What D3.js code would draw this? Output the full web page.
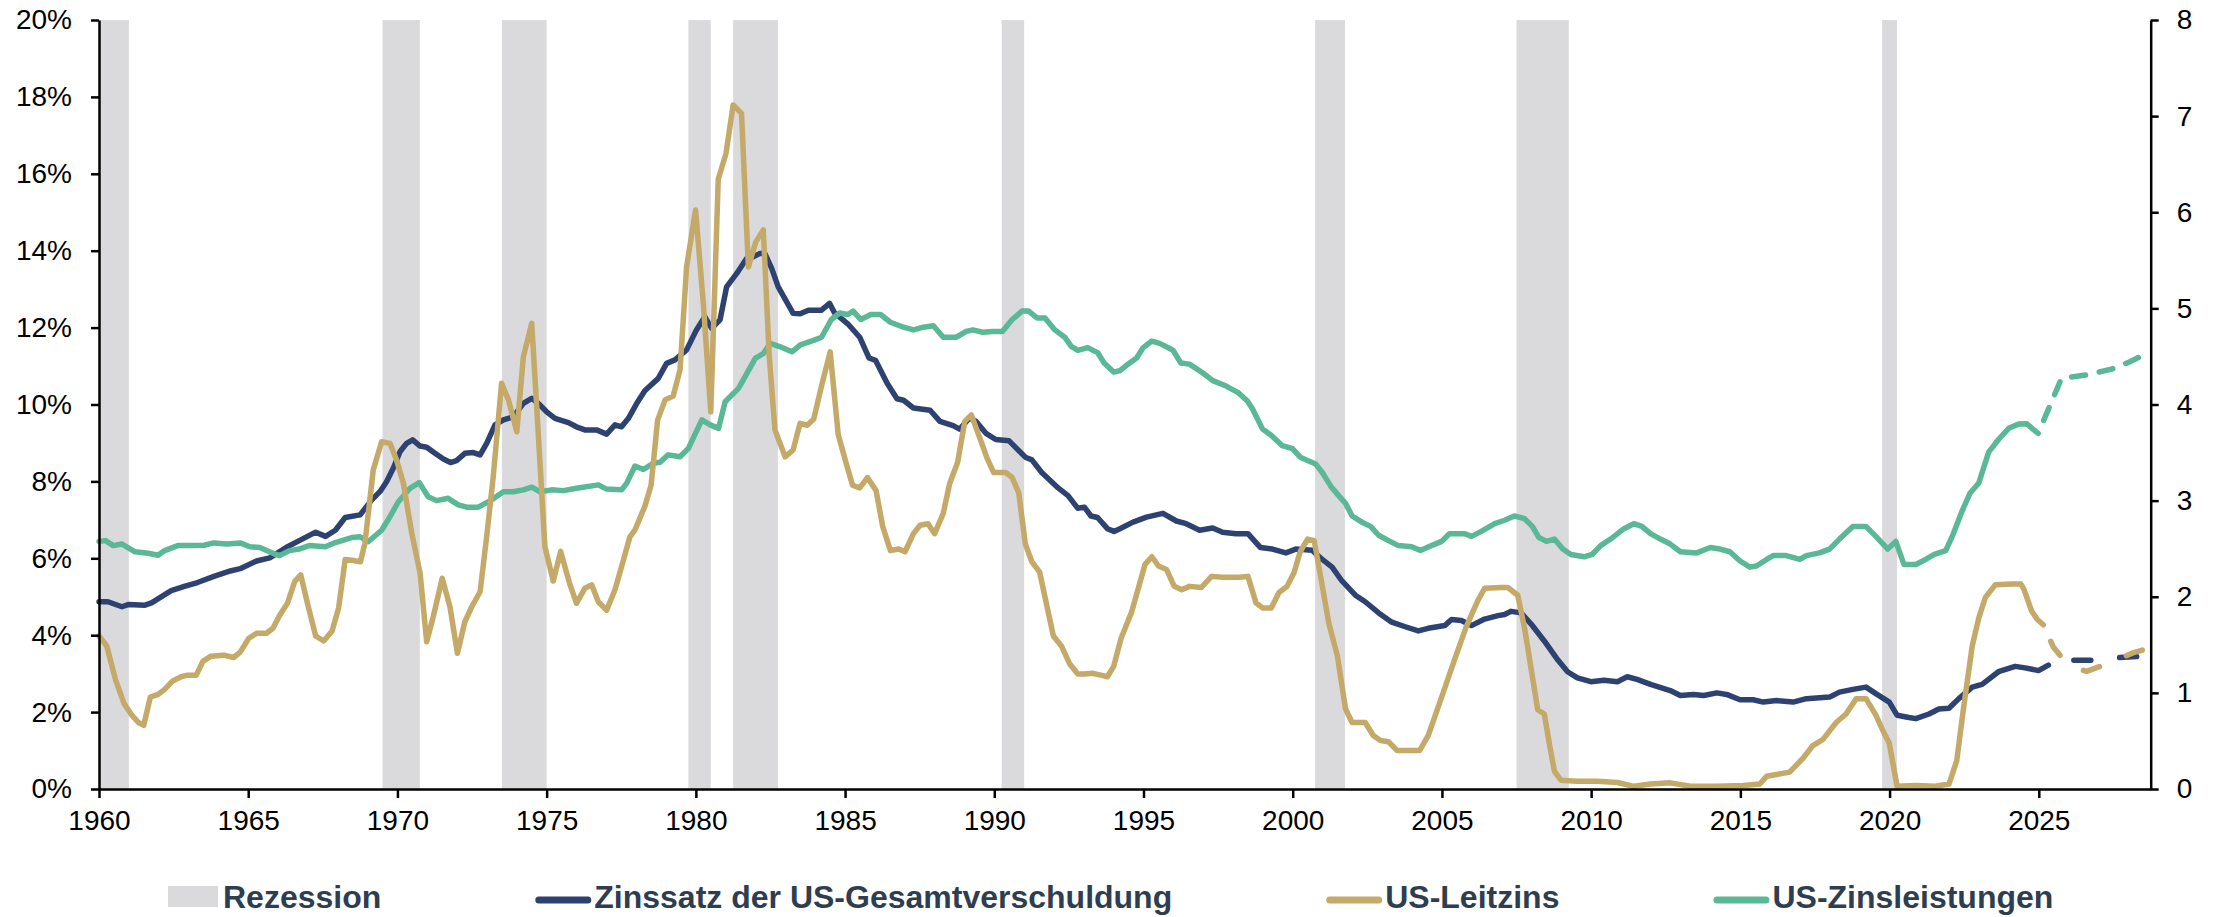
<!DOCTYPE html>
<html>
<head>
<meta charset="utf-8">
<script src="https://cdn.jsdelivr.net/npm/d3@7"></script>
<style>
  body { margin: 0; background: #fff; }
  svg { display: block; font-family: "Liberation Sans", Arial, sans-serif; }
</style>
</head>
<body>
<svg id="chart" width="2214" height="917"></svg>
<script>
// recession periods (start, end) in decimal years
var recessions = [[1960.0, 1961.0], [1969.5, 1970.75], [1973.5, 1975.0], [1979.75, 1980.5],
  [1981.25, 1982.75], [1990.25, 1991.0], [2000.75, 2001.75], [2007.5, 2009.25], [2019.75, 2020.25]];

// Zinssatz der US-Gesamtverschuldung, % (year, value)
var debtRate = [[1960.0,4.87],[1960.3,4.87],[1960.77,4.74],[1961.0,4.8],[1961.54,4.78],[1961.76,4.84],[1962.42,5.16],
  [1962.86,5.27],[1963.3,5.37],[1963.85,5.53],[1964.4,5.67],[1964.73,5.73],[1965.28,5.93],[1965.72,6.01],[1966.27,6.28],
  [1966.71,6.46],[1967.26,6.68],[1967.59,6.57],[1967.92,6.73],[1968.25,7.06],[1968.75,7.13],[1969.14,7.52],[1969.42,7.74],
  [1969.64,8.0],[1969.86,8.34],[1970.09,8.78],[1970.31,8.99],[1970.51,9.08],[1970.76,8.92],[1970.98,8.89],[1971.26,8.73],
  [1971.54,8.58],[1971.78,8.49],[1971.98,8.54],[1972.26,8.73],[1972.54,8.75],[1972.77,8.69],[1972.99,8.99],[1973.27,9.47],
  [1973.55,9.6],[1973.88,9.68],[1974.22,10.03],[1974.5,10.16],[1974.72,10.03],[1975.0,9.81],[1975.28,9.64],[1975.73,9.53],
  [1976.0,9.42],[1976.28,9.34],[1976.67,9.34],[1977.01,9.23],[1977.29,9.47],[1977.51,9.42],[1977.74,9.64],[1978.02,10.03],
  [1978.29,10.36],[1978.74,10.68],[1979.02,11.07],[1979.3,11.16],[1979.69,11.42],[1980.02,11.94],[1980.3,12.28],
  [1980.53,11.98],[1980.81,12.2],[1981.03,13.06],[1981.37,13.41],[1981.7,13.8],[1981.92,13.84],[1982.15,13.93],
  [1982.31,13.93],[1982.54,13.54],[1982.76,13.06],[1983.26,12.37],[1983.5,12.36],[1983.77,12.45],[1984.2,12.45],
  [1984.48,12.63],[1984.65,12.38],[1985.09,12.1],[1985.49,11.75],[1985.8,11.21],[1986.02,11.15],[1986.41,10.55],
  [1986.74,10.15],[1986.96,10.11],[1987.29,9.91],[1987.85,9.85],[1988.18,9.56],[1988.62,9.45],[1988.84,9.36],
  [1989.17,9.65],[1989.39,9.56],[1989.72,9.25],[1990.05,9.09],[1990.49,9.06],[1991.04,8.63],[1991.26,8.56],[1991.59,8.23],
  [1992.14,7.83],[1992.47,7.63],[1992.8,7.3],[1993.02,7.33],[1993.24,7.1],[1993.46,7.06],[1993.79,6.77],[1994.01,6.7],
  [1994.21,6.77],[1994.65,6.94],[1995.1,7.07],[1995.65,7.17],[1996.1,6.97],[1996.43,6.9],[1996.88,6.73],[1997.32,6.79],
  [1997.65,6.68],[1998.1,6.64],[1998.5,6.64],[1998.92,6.28],[1999.32,6.24],[1999.77,6.14],[2000.1,6.24],[2000.65,6.21],
  [2000.99,5.97],[2001.32,5.77],[2001.65,5.41],[2002.1,5.04],[2002.43,4.87],[2002.88,4.58],[2003.32,4.34],[2003.77,4.22],
  [2004.21,4.11],[2004.54,4.18],[2005.1,4.25],[2005.32,4.41],[2005.65,4.38],[2005.99,4.25],[2006.43,4.42],[2006.88,4.51],
  [2007.1,4.54],[2007.32,4.62],[2007.65,4.58],[2007.99,4.29],[2008.43,3.85],[2008.88,3.36],[2009.21,3.05],[2009.54,2.89],
  [2009.99,2.79],[2010.43,2.83],[2010.88,2.79],[2011.21,2.92],[2011.54,2.85],[2011.99,2.72],[2012.65,2.56],[2012.99,2.43],
  [2013.43,2.46],[2013.77,2.43],[2014.21,2.5],[2014.54,2.46],[2014.99,2.32],[2015.43,2.32],[2015.77,2.26],[2016.21,2.3],
  [2016.77,2.26],[2017.21,2.35],[2017.99,2.39],[2018.32,2.52],[2018.77,2.59],[2019.21,2.65],[2019.54,2.48],[2019.99,2.26],
  [2020.25,1.92],[2020.65,1.86],[2020.88,1.83],[2021.32,1.95],[2021.65,2.08],[2021.99,2.1],[2022.32,2.35],[2022.77,2.65],
  [2023.1,2.72],[2023.65,3.05],[2024.21,3.19],[2024.54,3.15],[2024.99,3.08],[2025.32,3.22]];
var debtRateForecast = [[2025.32,3.22],[2026.15,3.35],[2026.93,3.35],[2027.7,3.42],[2028.45,3.45]];

// US-Leitzins, %
var policyRate = [[1960.0,3.98],[1960.26,3.72],[1960.55,2.85],[1960.84,2.22],[1961.1,1.92],[1961.32,1.73],[1961.5,1.66],
  [1961.72,2.39],[1961.98,2.46],[1962.2,2.59],[1962.47,2.81],[1962.75,2.92],[1962.97,2.96],[1963.26,2.96],[1963.48,3.32],
  [1963.74,3.45],[1964.18,3.48],[1964.51,3.42],[1964.73,3.56],[1965.02,3.92],[1965.28,4.05],[1965.61,4.05],[1965.83,4.18],
  [1966.05,4.51],[1966.32,4.84],[1966.56,5.4],[1966.76,5.57],[1967.0,4.78],[1967.26,3.98],[1967.53,3.85],[1967.81,4.11],
  [1968.03,4.71],[1968.25,5.97],[1968.47,5.95],[1968.76,5.91],[1968.91,6.39],[1969.19,8.3],[1969.47,9.03],[1969.75,8.99],
  [1969.97,8.56],[1970.2,7.95],[1970.48,6.65],[1970.76,5.61],[1970.98,3.83],[1971.2,4.48],[1971.5,5.48],[1971.76,4.74],
  [1972.01,3.53],[1972.26,4.35],[1972.49,4.74],[1972.77,5.13],[1972.99,6.56],[1973.21,8.12],[1973.49,10.55],[1973.72,10.12],
  [1974.0,9.29],[1974.22,11.24],[1974.5,12.11],[1974.66,10.03],[1974.94,6.31],[1975.22,5.41],[1975.47,6.18],[1975.76,5.37],
  [1976.0,4.83],[1976.28,5.22],[1976.51,5.31],[1976.73,4.87],[1977.01,4.65],[1977.29,5.18],[1977.51,5.78],[1977.79,6.56],
  [1977.96,6.74],[1978.29,7.35],[1978.5,7.9],[1978.72,9.6],[1978.97,10.12],[1979.24,10.22],[1979.47,10.9],[1979.69,13.58],
  [1979.99,15.06],[1980.25,12.63],[1980.5,9.81],[1980.75,15.86],[1981.01,16.53],[1981.25,17.79],[1981.53,17.57],
  [1981.76,13.58],[1982.01,14.23],[1982.26,14.54],[1982.46,11.24],[1982.65,9.34],[1982.99,8.64],[1983.26,8.82],
  [1983.49,9.51],[1983.73,9.46],[1983.95,9.62],[1984.21,10.48],[1984.5,11.37],[1984.77,9.22],[1985.03,8.49],[1985.25,7.9],
  [1985.49,7.83],[1985.75,8.1],[1986.04,7.76],[1986.26,6.83],[1986.52,6.2],[1986.79,6.24],[1987.01,6.17],[1987.29,6.64],
  [1987.51,6.86],[1987.78,6.9],[1988.0,6.64],[1988.29,7.17],[1988.51,7.96],[1988.77,8.49],[1989.01,9.56],[1989.23,9.73],
  [1989.5,9.16],[1989.76,8.6],[1989.98,8.23],[1990.38,8.23],[1990.6,8.1],[1990.82,7.7],[1991.04,6.37],[1991.26,5.91],
  [1991.52,5.64],[1991.74,4.84],[1991.98,3.98],[1992.25,3.72],[1992.53,3.25],[1992.8,2.99],[1993.02,2.99],[1993.28,3.01],
  [1993.57,2.96],[1993.79,2.92],[1994.0,3.19],[1994.25,3.92],[1994.6,4.6],[1995.05,5.84],[1995.28,6.04],[1995.5,5.8],
  [1995.77,5.71],[1996.03,5.27],[1996.28,5.18],[1996.54,5.27],[1996.94,5.24],[1997.28,5.53],[1997.65,5.51],[1998.21,5.51],
  [1998.5,5.53],[1998.77,4.84],[1998.99,4.71],[1999.28,4.71],[1999.54,5.11],[1999.81,5.27],[2000.05,5.64],[2000.25,6.17],
  [2000.5,6.5],[2000.72,6.46],[2000.94,5.51],[2001.21,4.31],[2001.5,3.45],[2001.77,2.08],[2001.99,1.73],[2002.43,1.73],
  [2002.7,1.39],[2002.94,1.26],[2003.21,1.23],[2003.5,1.0],[2003.99,1.0],[2004.25,1.0],[2004.54,1.39],[2004.99,2.39],
  [2005.43,3.38],[2005.81,4.21],[2006.21,4.91],[2006.43,5.22],[2006.99,5.24],[2007.21,5.24],[2007.54,5.04],[2007.77,4.18],
  [2007.99,3.12],[2008.21,2.06],[2008.43,1.95],[2008.61,1.13],[2008.77,0.46],[2008.99,0.23],[2009.54,0.2],[2010.21,0.2],
  [2010.88,0.17],[2011.43,0.07],[2011.99,0.13],[2012.65,0.16],[2013.32,0.07],[2014.21,0.07],[2015.1,0.09],[2015.65,0.13],
  [2015.88,0.33],[2016.65,0.44],[2017.1,0.8],[2017.43,1.13],[2017.77,1.29],[2018.21,1.73],[2018.54,1.95],[2018.88,2.35],
  [2019.21,2.35],[2019.54,1.92],[2019.77,1.53],[2019.99,1.19],[2020.25,0.07],[2020.88,0.09],[2021.54,0.07],[2021.99,0.13],
  [2022.25,0.73],[2022.47,2.06],[2022.77,3.72],[2022.99,4.45],[2023.21,4.98],[2023.54,5.31],[2024.1,5.33],[2024.4,5.33],
  [2024.5,5.2],[2024.76,4.63],[2024.95,4.41],[2025.15,4.27]];
var policyRateForecast = [[2025.15,4.27],[2025.48,3.7],[2025.98,3.22],[2026.6,3.06],[2027.38,3.28],[2028.15,3.54],[2028.75,3.68]];

// US-Zinsleistungen, %
var interestPay = [[1960.0,6.44],[1960.22,6.46],[1960.48,6.33],[1960.77,6.37],[1961.21,6.17],[1961.65,6.13],[1961.98,6.08],
  [1962.2,6.2],[1962.64,6.33],[1963.08,6.33],[1963.52,6.34],[1963.85,6.4],[1964.29,6.37],[1964.73,6.4],[1965.06,6.3],
  [1965.39,6.28],[1965.83,6.13],[1966.05,6.07],[1966.38,6.2],[1966.71,6.24],[1967.04,6.33],[1967.59,6.3],[1967.92,6.41],
  [1968.47,6.54],[1968.75,6.56],[1969.02,6.43],[1969.47,6.73],[1969.75,7.08],[1970.03,7.47],[1970.42,7.82],[1970.73,7.97],
  [1971.03,7.6],[1971.31,7.5],[1971.7,7.56],[1972.04,7.39],[1972.32,7.33],[1972.71,7.33],[1973.16,7.52],[1973.55,7.73],
  [1973.88,7.73],[1974.22,7.78],[1974.5,7.85],[1974.78,7.73],[1975.17,7.78],[1975.56,7.76],[1976.0,7.82],[1976.73,7.91],
  [1977.01,7.8],[1977.51,7.78],[1977.68,7.95],[1977.96,8.4],[1978.24,8.31],[1978.57,8.47],[1978.8,8.5],[1979.07,8.69],
  [1979.47,8.64],[1979.75,8.86],[1980.2,9.6],[1980.48,9.47],[1980.76,9.38],[1980.98,10.07],[1981.43,10.42],[1981.71,10.81],
  [1981.99,11.2],[1982.27,11.33],[1982.49,11.59],[1982.83,11.5],[1983.22,11.37],[1983.5,11.55],[1983.99,11.68],
  [1984.21,11.75],[1984.54,12.21],[1984.82,12.38],[1985.09,12.34],[1985.27,12.43],[1985.53,12.21],[1985.86,12.34],
  [1986.19,12.34],[1986.52,12.14],[1986.96,12.01],[1987.29,11.94],[1987.63,12.01],[1987.96,12.05],[1988.29,11.75],
  [1988.73,11.75],[1989.06,11.9],[1989.28,11.94],[1989.61,11.88],[1989.94,11.9],[1990.27,11.9],[1990.6,12.21],
  [1990.93,12.43],[1991.15,12.43],[1991.43,12.25],[1991.7,12.25],[1992.03,11.94],[1992.36,11.75],[1992.58,11.51],
  [1992.8,11.41],[1993.13,11.48],[1993.46,11.35],[1993.68,11.08],[1994.01,10.84],[1994.21,10.88],[1994.43,11.02],
  [1994.77,11.21],[1994.99,11.48],[1995.28,11.65],[1995.54,11.59],[1995.99,11.41],[1996.25,11.08],[1996.54,11.05],
  [1996.99,10.82],[1997.32,10.62],[1997.77,10.48],[1998.17,10.31],[1998.48,10.09],[1998.65,9.89],[1998.99,9.36],
  [1999.28,9.2],[1999.65,8.93],[1999.99,8.85],[2000.25,8.63],[2000.77,8.45],[2000.99,8.23],[2001.28,7.87],[2001.54,7.63],
  [2001.77,7.43],[2001.99,7.1],[2002.32,6.94],[2002.61,6.83],[2002.88,6.6],[2003.21,6.46],[2003.54,6.33],[2003.99,6.3],
  [2004.28,6.2],[2004.65,6.33],[2004.99,6.44],[2005.25,6.64],[2005.77,6.64],[2005.99,6.57],[2006.32,6.7],[2006.77,6.9],
  [2007.1,6.99],[2007.43,7.1],[2007.77,7.03],[2008.03,6.83],[2008.25,6.54],[2008.5,6.44],[2008.77,6.5],[2009.05,6.24],
  [2009.32,6.1],[2009.77,6.04],[2010.03,6.1],[2010.32,6.33],[2010.65,6.5],[2011.1,6.77],[2011.43,6.9],[2011.7,6.83],
  [2011.99,6.64],[2012.32,6.5],[2012.65,6.37],[2012.99,6.17],[2013.54,6.14],[2013.99,6.28],[2014.32,6.24],[2014.65,6.17],
  [2014.99,5.93],[2015.32,5.77],[2015.54,5.8],[2015.88,5.97],[2016.1,6.07],[2016.54,6.07],[2016.99,5.97],[2017.21,6.07],
  [2017.65,6.14],[2017.99,6.24],[2018.32,6.5],[2018.77,6.83],[2019.21,6.83],[2019.54,6.57],[2019.94,6.24],[2020.21,6.44],
  [2020.48,5.84],[2020.88,5.84],[2021.21,5.97],[2021.5,6.1],[2021.88,6.2],[2022.1,6.57],[2022.43,7.23],[2022.7,7.7],
  [2022.99,7.96],[2023.32,8.76],[2023.65,9.09],[2023.99,9.38],[2024.32,9.49],[2024.6,9.5],[2024.77,9.38],[2024.98,9.25]];
var interestPayForecast = [[2024.98,9.25],[2025.76,10.68],[2026.6,10.77],[2027.44,10.92],[2028.05,11.11],[2028.72,11.37]];

var xTicks = d3.range(1960, 2026, 5);
var leftTicks = d3.range(0, 21, 2);
var rightTicks = d3.range(0, 9, 1);

var legendLabels = ["Rezession", "Zinssatz der US-Gesamtverschuldung", "US-Leitzins", "US-Zinsleistungen"];

(function() {
  var colors = { recession: "#dad9dc", debt: "#2e4272", policy: "#c4a968", pay: "#5bb896", text: "#2e3e50" };

  var svg = d3.select("#chart");
  var plotLeft = 99, plotRight = 2150.7, plotTop = 20, plotBottom = 789;

  var x = d3.scaleLinear().domain([1960, 2028.75]).range([plotLeft, plotRight]);
  var y = d3.scaleLinear().domain([0, 20]).range([plotBottom, plotTop]);
  var yRight = d3.scaleLinear().domain([0, 8]).range([plotBottom, plotTop]);

  // recession bands
  svg.append("g").selectAll("rect").data(recessions).enter().append("rect")
    .attr("x", function(d) { return x(d[0]); })
    .attr("y", plotTop)
    .attr("width", function(d) { return x(d[1]) - x(d[0]); })
    .attr("height", plotBottom - plotTop)
    .attr("fill", colors.recession);

  var line = d3.line()
    .x(function(d) { return x(d[0]); })
    .y(function(d) { return y(d[1]); });

  var series = [
    { data: debtRate, fc: debtRateForecast, color: colors.debt, dash: "17,29", offset: 20 },
    { data: interestPay, fc: interestPayForecast, color: colors.pay, dash: "14,14", offset: 14 },
    { data: policyRate, fc: policyRateForecast, color: colors.policy, dash: "17,29", offset: 28 }
  ];

  series.forEach(function(s) {
    svg.append("path").datum(s.data)
      .attr("d", line)
      .attr("fill", "none")
      .attr("stroke", s.color)
      .attr("stroke-width", 5.5)
      .attr("stroke-linejoin", "round")
      .attr("stroke-linecap", "round");
    svg.append("path").datum(s.fc)
      .attr("d", line)
      .attr("fill", "none")
      .attr("stroke", s.color)
      .attr("stroke-width", 5.5)
      .attr("stroke-linejoin", "round")
      .attr("stroke-linecap", "round")
      .attr("stroke-dasharray", s.dash)
      .attr("stroke-dashoffset", s.offset);
  });

  // axes
  var xAxis = svg.append("g")
    .attr("transform", "translate(0," + plotBottom + ")")
    .call(d3.axisBottom(x).tickValues(xTicks).tickFormat(d3.format("d")).tickSize(9).tickSizeOuter(0).tickPadding(12));

  var yAxis = svg.append("g")
    .attr("transform", "translate(" + plotLeft + ",0)")
    .call(d3.axisLeft(y).tickValues(leftTicks).tickFormat(function(d) { return d + "%"; }).tickSize(8).tickSizeOuter(0).tickPadding(19));

  var yAxisR = svg.append("g")
    .attr("transform", "translate(" + plotRight + ",0)")
    .call(d3.axisRight(yRight).tickValues(rightTicks).tickSize(8).tickSizeOuter(0).tickPadding(18));

  [xAxis, yAxis, yAxisR].forEach(function(g) {
    g.select(".domain").attr("stroke", "#000").attr("stroke-width", 2.5);
    g.selectAll(".tick line").attr("stroke", "#000").attr("stroke-width", 2.5);
    g.selectAll(".tick text").attr("fill", "#000").style("font-size", "28px")
      .style("font-family", "'Liberation Sans', Arial, sans-serif");
  });
  xAxis.selectAll(".tick text").attr("dy", "0.72em");

  // legend
  var legend = svg.append("g");
  var lx = 168, ly = 897;
  legendLabels.forEach(function(label, i) {
    if (i === 0) {
      legend.append("rect").attr("x", lx).attr("y", ly - 11).attr("width", 50).attr("height", 21)
        .attr("fill", colors.recession);
    } else {
      var c = [colors.debt, colors.policy, colors.pay][i - 1];
      legend.append("line").attr("x1", lx + 3.5).attr("x2", lx + 52.5).attr("y1", ly + 3).attr("y2", ly + 3)
        .attr("stroke", c).attr("stroke-width", 7).attr("stroke-linecap", "round");
    }
    var t = legend.append("text")
      .attr("x", lx + (i === 0 ? 55 : 59))
      .attr("y", 908)
      .attr("fill", colors.text)
      .style("font-size", "32px")
      .style("font-weight", "bold")
      .text(label);
    lx = lx + (i === 0 ? 55 : 59) + t.node().getComputedTextLength() + 154;
  });
})();
</script>
</body>
</html>
